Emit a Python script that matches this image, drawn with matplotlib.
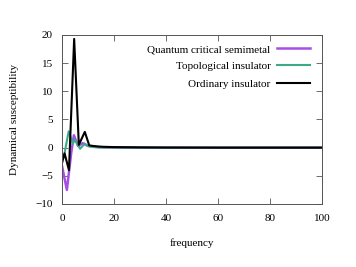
import matplotlib
matplotlib.use('Agg')
import matplotlib.pyplot as plt

plt.rcParams['font.family'] = ['Liberation Serif', 'DejaVu Serif']

# frequency samples and responses
freq_qcs = [0, 1.9, 3.6, 4.6, 6.2, 8, 10, 12, 14, 16, 20, 30, 40, 60, 80, 100]
chi_qcs = [-3.2, -7.5, -0.8, 2.2, 0.3, 0.8, 0.3, 0.2, 0.1, 0.05, 0.02, 0.0, 0.0, 0.0, 0.0, 0.0]

freq_topo = [0, 1, 2.6, 4.2, 5, 7, 8.7, 10, 12, 14, 16, 20, 30, 40, 60, 80, 100]
chi_topo = [-2, -1, 2.9, 0.7, 1.4, -0.2, 0.7, 0.3, 0.1, 0.05, 0.03, 0.02, 0.0, 0.0, 0.0, 0.0, 0.0]

freq_ord = [0, 1, 2.7, 4.7, 6.5, 8.8, 10.5, 12, 14, 16, 20, 30, 40, 60, 80, 100]
chi_ord = [-2.8, -1, -4, 19.3, 0.5, 2.8, 0.4, 0.3, 0.2, 0.15, 0.1, 0.05, 0.02, 0.0, 0.0, 0.0]

labels = ['Quantum critical semimetal', 'Topological insulator', 'Ordinary insulator']
colors = ['#a64ee6', '#3ea987', '#000000']

fig = plt.figure(figsize=(3.56, 2.67), dpi=100)
ax = fig.add_axes([0.174, 0.236, 0.730, 0.633])

ax.plot(freq_qcs, chi_qcs, color=colors[0], lw=1.8, label=labels[0])
ax.plot(freq_topo, chi_topo, color=colors[1], lw=1.5, label=labels[1])
ax.plot(freq_ord, chi_ord, color=colors[2], lw=1.5, label=labels[2])

ax.set_xlim(0, 100)
ax.set_ylim(-10, 20)
ax.set_xticks([0, 20, 40, 60, 80, 100])
ax.set_yticks([-10, -5, 0, 5, 10, 15, 20])
ax.tick_params(direction='in', top=True, right=True, length=4, width=0.6,
               labelsize=8, color='#555555')
ax.tick_params(axis='x', pad=7.5)
ax.tick_params(axis='y', pad=6.5)
for s in ax.spines.values():
    s.set_color('#555555')
    s.set_linewidth(0.7)

ax.set_xlabel('frequency', fontsize=8, labelpad=11)
ax.set_ylabel('Dynamical susceptibility', fontsize=8, labelpad=12)

ax.legend(loc='upper right', frameon=False, markerfirst=False, fontsize=8,
          handlelength=3.0, handletextpad=0.55, labelspacing=0.68,
          borderpad=0.0, borderaxespad=0.0, bbox_to_anchor=(0.954, 0.945))

fig.savefig('out.png', dpi=100)
